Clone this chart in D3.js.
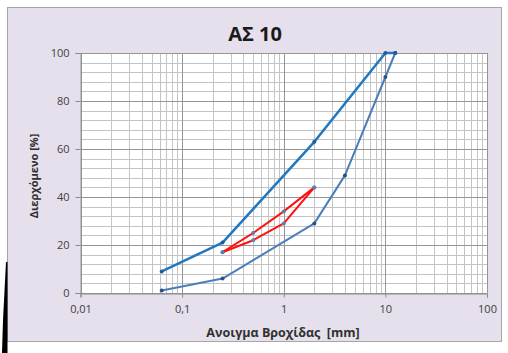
<!DOCTYPE html>
<html><head><meta charset="utf-8">
<script src="https://cdn.jsdelivr.net/npm/d3@7"></script>
<style>html,body{margin:0;padding:0;background:#fff;}svg{display:block;}</style>
</head><body>
<svg id="c" width="508" height="353"></svg>
<script>
const title = "ΑΣ 10";
const xLabel = "Ανοιγμα Βροχίδας  [mm]";
const yLabel = "Διερχόμενο [%]";
const xTicks = [0.01, 0.1, 1, 10, 100];
const xTickLabels = ["0,01", "0,1", "1", "10", "100"];
const yTicks = [0, 20, 40, 60, 80, 100];

const upperSize = [0.063, 0.25, 2, 10, 12.5];
const upperPass = [9, 21, 63, 100, 100];
const lowerSize = [0.063, 0.25, 2, 4, 10, 12.5];
const lowerPass = [1, 6, 29, 49, 90, 100];
const mixASize = [0.25, 0.5, 1, 2];
const mixAPass = [17, 25, 34, 44];
const mixBSize = [0.25, 0.5, 1, 2];
const mixBPass = [17, 22, 29, 44];

const svg = d3.select("#c");
svg.append("rect").attr("x",7.5).attr("y",7.5).attr("width",494).attr("height",334)
  .attr("fill","#e5e0ec").attr("stroke","#a6a6a6").attr("stroke-width",1);
// dark shadow edge at left bottom
svg.append("path").attr("d","M6,262 L7.5,262 L7.5,353 L2,353 L3,320 Z").attr("fill","#000");

const x = d3.scaleLog().domain([0.01,100]).range([80.5,487]);
const y = d3.scaleLinear().domain([0,100]).range([293,53]);

const g = svg.append("g");
g.append("rect").attr("x",80.5).attr("y",53).attr("width",487-80.5).attr("height",240).attr("fill","#fff");

// minor vertical grid
const minorX = [];
for (let d=0.01; d<100; d*=10) for (let k=2;k<=9;k++) minorX.push(d*k);
g.selectAll(".vmin").data(minorX).enter().append("line")
  .attr("x1",d=>Math.round(x(d))+0.5).attr("x2",d=>Math.round(x(d))+0.5)
  .attr("y1",53).attr("y2",293).attr("stroke","#c4c4c4").attr("stroke-width",1);
// minor horizontal grid
const minorY = d3.range(0,101,4).filter(v=>v%20!==0);
g.selectAll(".hmin").data(minorY).enter().append("line")
  .attr("y1",d=>Math.round(y(d))+0.5).attr("y2",d=>Math.round(y(d))+0.5)
  .attr("x1",80.5).attr("x2",487).attr("stroke","#c4c4c4").attr("stroke-width",1);
// major grid
g.selectAll(".vmaj").data(xTicks).enter().append("line")
  .attr("x1",d=>Math.round(x(d))+0.5).attr("x2",d=>Math.round(x(d))+0.5)
  .attr("y1",53).attr("y2",293).attr("stroke","#969696").attr("stroke-width",1);
g.selectAll(".hmaj").data(yTicks).enter().append("line")
  .attr("y1",d=>Math.round(y(d))+0.5).attr("y2",d=>Math.round(y(d))+0.5)
  .attr("x1",80.5).attr("x2",487).attr("stroke","#969696").attr("stroke-width",1);

// axes
const yAxis = d3.axisLeft(y).tickValues(yTicks).tickSize(5).tickPadding(6);
const ya = svg.append("g").attr("transform","translate(80.5,0)").call(yAxis);
const xAxis = d3.axisBottom(x).tickValues(xTicks).tickFormat((d,i)=>xTickLabels[i]).tickSize(4).tickPadding(8);
const xa = svg.append("g").attr("transform","translate(0,293.5)").call(xAxis);
[ya,xa].forEach(a=>{
  a.select(".domain").attr("stroke","#8c8c8c");
  a.selectAll(".tick line").attr("stroke","#8c8c8c");
  a.selectAll("text").attr("fill","#404040").style("font-family","'Open Sans', sans-serif").style("font-size","11px");
});

const line = d3.line().x(d=>x(d[0])).y(d=>y(d[1]));
function series(sz, pv, color, w, mk){
  const data = sz.map((s,i)=>[s,pv[i]]);
  svg.append("path").datum(data).attr("d",line).attr("fill","none")
    .attr("stroke",color).attr("stroke-width",w).attr("stroke-linejoin","round");
  svg.selectAll(null).data(data).enter().append("circle")
    .attr("cx",d=>x(d[0])).attr("cy",d=>y(d[1])).attr("r",2).attr("fill",mk);
}
series(lowerSize, lowerPass, "#4a7ebb", 2, "#2f4f80");
series(upperSize, upperPass, "#1f78c1", 2.5, "#1f5c99");
series(mixASize, mixAPass, "#ff1010", 2, "#5e7fb0");
series(mixBSize, mixBPass, "#ff1010", 2, "#5e7fb0");

svg.append("text").attr("x",255).attr("y",41).attr("text-anchor","middle")
  .style("font-family","'Open Sans', sans-serif").style("font-weight","bold").style("font-size","20px")
  .attr("fill","#1a1a1a").text(title);
svg.append("text").attr("x",283).attr("y",337).attr("text-anchor","middle")
  .style("font-family","'Open Sans', sans-serif").style("font-weight","bold").style("font-size","12.5px")
  .attr("fill","#303030").style("white-space","pre").text(xLabel);
svg.append("text").attr("transform","translate(38,176) rotate(-90)").attr("text-anchor","middle")
  .style("font-family","'Open Sans', sans-serif").style("font-weight","bold").style("font-size","11px")
  .attr("fill","#303030").text(yLabel);
</script>
</body></html>
